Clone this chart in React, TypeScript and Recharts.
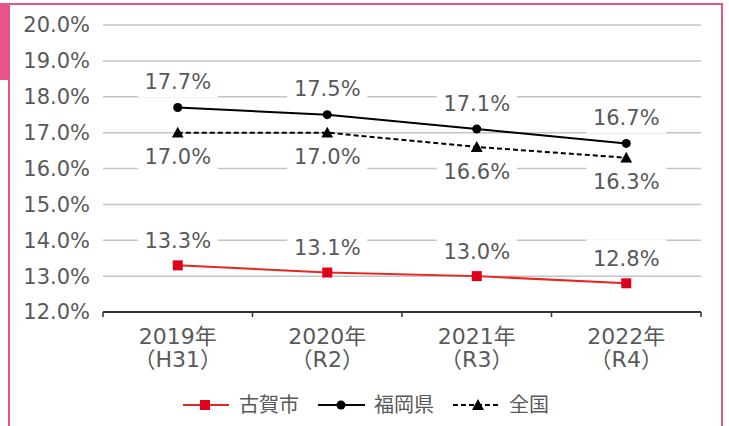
import React from 'react';
import { LineChart, Line, XAxis, YAxis, CartesianGrid, LabelList } from 'recharts';

const years = ['2019年', '2020年', '2021年', '2022年'];
const eras = ['（H31）', '（R2）', '（R3）', '（R4）'];
const koga = [13.3, 13.1, 13.0, 12.8];
const fukuoka = [17.7, 17.5, 17.1, 16.7];
const zenkoku = [17.0, 17.0, 16.6, 16.3];
const yTicks = [12, 13, 14, 15, 16, 17, 18, 19, 20];
const seriesNames = ['古賀市', '福岡県', '全国'];

const data = years.map((year, i) => ({
  year,
  koga: koga[i],
  fukuoka: fukuoka[i],
  zenkoku: zenkoku[i],
}));

const FONT = '"DejaVu Sans", "Noto Sans CJK JP", sans-serif';
const TEXT = '#595959';
const PINK = '#e8538b';
const RED_LINE = '#e8261e';
const RED_MARK = '#e0001b';
const AXIS = '#333';

const fmt = (v: number) => v.toFixed(1) + '%';

// label with a white box behind it, like the original
const boxLabel = (offset: number) => (props: any) => {
  const { x, y, value } = props;
  const cy = y + offset;
  return (
    <g>
      <rect x={x - 40} y={cy - 19} width={80} height={35} fill="#fff" />
      <text x={x} y={cy} dy="0.36em" textAnchor="middle" fill={TEXT} fontSize={21} fontFamily={FONT}>
        {fmt(value)}
      </text>
    </g>
  );
};

const squareDot = (props: any) => (
  <rect key={props.index} x={props.cx - 5} y={props.cy - 5} width={10} height={10} fill={RED_MARK} />
);

const triDot = (props: any) => (
  <polygon
    key={props.index}
    points={`${props.cx},${props.cy - 6} ${props.cx + 6},${props.cy + 5} ${props.cx - 6},${props.cy + 5}`}
    fill="#000"
  />
);

// two-line category label, plus tick marks on the band edges
const YearTick = (props: any) => {
  const { x, y, payload, index, visibleTicksCount } = props;
  const half = payload.offset || 74.75;
  const last = index === (visibleTicksCount || years.length) - 1;
  return (
    <g transform={`translate(${x},${y})`}>
      <line x1={-half} x2={-half} y1={-8} y2={-3} stroke={AXIS} strokeWidth={1.5} />
      {last && <line x1={half} x2={half} y1={-8} y2={-3} stroke={AXIS} strokeWidth={1.5} />}
      <text textAnchor="middle" fill={TEXT} fontSize={22} fontFamily={FONT}>
        <tspan x={0} dy={24}>{payload.value}</tspan>
        <tspan x={0} dy={23}>{eras[index]}</tspan>
      </text>
    </g>
  );
};

const Legend = () => (
  <svg width={729} height={40} style={{ position: 'absolute', left: 0, top: 385 }}>
    <g>
      <line x1={183} x2={229} y1={20} y2={20} stroke={RED_LINE} strokeWidth={2} />
      <rect x={200} y={15} width={10} height={10} fill={RED_MARK} />
      <text x={239} y={20} dy="0.36em" fontSize={20} fill={TEXT} fontFamily={FONT}>{seriesNames[0]}</text>
    </g>
    <g>
      <line x1={318} x2={365} y1={20} y2={20} stroke="#000" strokeWidth={2} />
      <circle cx={341} cy={20} r={4.5} fill="#000" />
      <text x={374} y={20} dy="0.36em" fontSize={20} fill={TEXT} fontFamily={FONT}>{seriesNames[1]}</text>
    </g>
    <g>
      <line x1={453} x2={500} y1={20} y2={20} stroke="#000" strokeWidth={2} strokeDasharray="5 3" />
      <polygon points="478,14 484,25 472,25" fill="#000" />
      <text x={509} y={20} dy="0.36em" fontSize={20} fill={TEXT} fontFamily={FONT}>{seriesNames[2]}</text>
    </g>
  </svg>
);

export default function App() {
  return (
    <div style={{ position: 'absolute', left: 0, top: 0, width: 729, height: 426, overflow: 'hidden', background: '#fff' }}>
      <div style={{ position: 'absolute', left: 8, top: 3, width: 711, height: 440, border: `2px solid ${PINK}` }} />
      <div style={{ position: 'absolute', left: 0, top: 3, width: 9, height: 77, background: PINK }} />
      <div style={{ position: 'absolute', left: 0, top: 0 }}>
        <LineChart width={729} height={426} data={data} margin={{ top: 25, right: 28, left: 0, bottom: 54 }}>
          <CartesianGrid vertical={false} stroke="#c4c4c4" strokeWidth={1.5} />
          <XAxis
            dataKey="year"
            scale="band"
            axisLine={{ stroke: AXIS, strokeWidth: 2 }}
            tickLine={false}
            height={60}
            interval={0}
            tick={<YearTick />}
          />
          <YAxis
            domain={[12, 20]}
            ticks={yTicks}
            tickFormatter={fmt}
            axisLine={false}
            tickLine={false}
            width={103}
            tickMargin={7}
            tick={{ fill: TEXT, fontSize: 21, fontFamily: FONT }}
          />
          <Line
            dataKey="koga"
            name={seriesNames[0]}
            stroke={RED_LINE}
            strokeWidth={2}
            dot={squareDot}
            isAnimationActive={false}
          >
            <LabelList dataKey="koga" content={boxLabel(-25)} />
          </Line>
          <Line
            dataKey="fukuoka"
            name={seriesNames[1]}
            stroke="#000"
            strokeWidth={2}
            dot={{ r: 4.5, fill: '#000', stroke: '#000', strokeWidth: 0 }}
            isAnimationActive={false}
          >
            <LabelList dataKey="fukuoka" content={boxLabel(-26)} />
          </Line>
          <Line
            dataKey="zenkoku"
            name={seriesNames[2]}
            stroke="#000"
            strokeWidth={2}
            strokeDasharray="5 3"
            dot={triDot}
            isAnimationActive={false}
          >
            <LabelList dataKey="zenkoku" content={boxLabel(24)} />
          </Line>
        </LineChart>
      </div>
      <Legend />
    </div>
  );
}
